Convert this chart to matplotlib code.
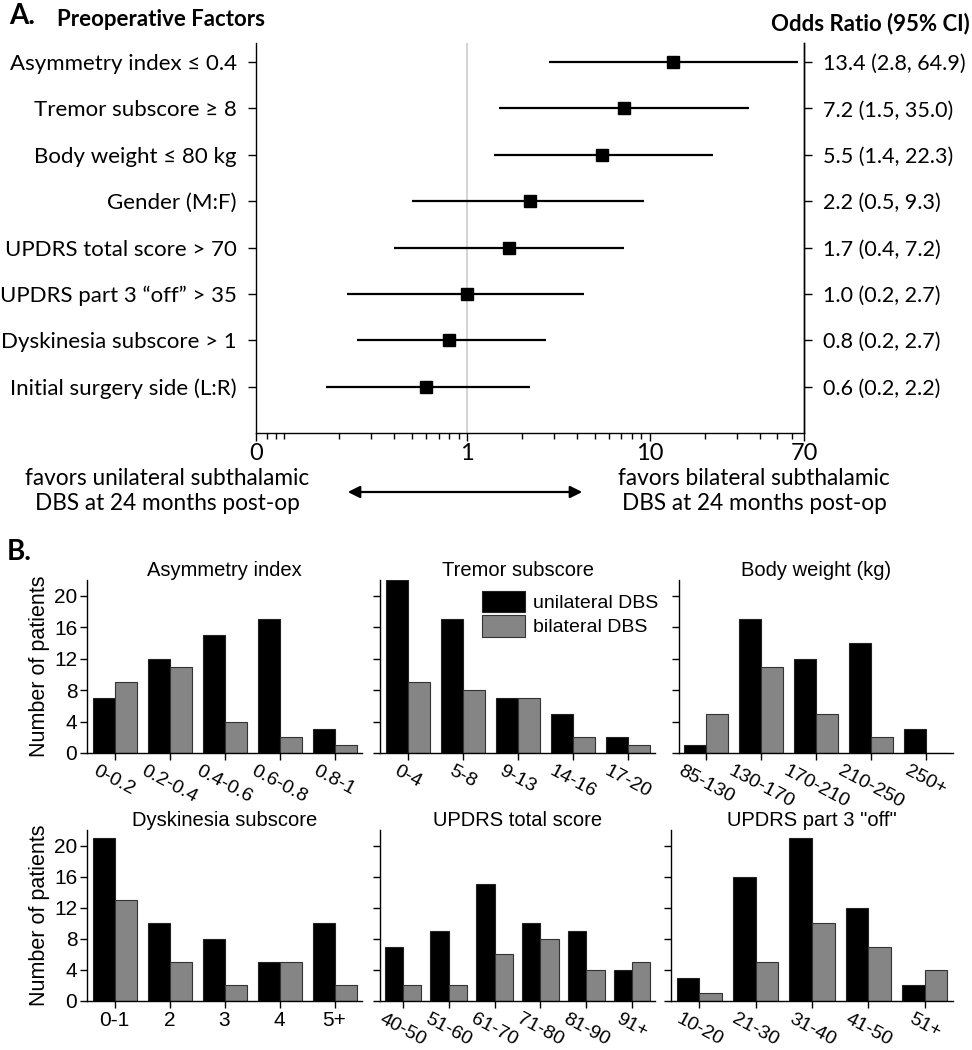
import matplotlib
matplotlib.use('Agg')
import matplotlib.pyplot as plt
import numpy as np
from matplotlib.ticker import FixedLocator, NullFormatter, FixedFormatter

# ---------------- data: panel A (forest plot) ----------------
factors = ["Asymmetry index \u2264 0.4", "Tremor subscore \u2265 8", "Body weight \u2264 80 kg",
           "Gender (M:F)", "UPDRS total score > 70", "UPDRS part 3 \u201coff\u201d > 35",
           "Dyskinesia subscore > 1", "Initial surgery side (L:R)"]
odds = [13.4, 7.2, 5.5, 2.2, 1.7, 1.0, 0.8, 0.6]
ci_low = [2.8, 1.5, 1.4, 0.5, 0.4, 0.22, 0.25, 0.17]
ci_high = [64.9, 35.0, 22.3, 9.3, 7.2, 4.4, 2.7, 2.2]
or_labels = ["13.4 (2.8, 64.9)", "7.2 (1.5, 35.0)", "5.5 (1.4, 22.3)", "2.2 (0.5, 9.3)",
             "1.7 (0.4, 7.2)", "1.0 (0.2, 2.7)", "0.8 (0.2, 2.7)", "0.6 (0.2, 2.2)"]
x_major = [0.07, 1, 10, 70]
x_major_labels = ["0", "1", "10", "70"]
x_minor = [0.08, 0.09, 0.1, 0.2, 0.3, 0.4, 0.5, 0.6, 0.7, 0.8, 0.9,
           2, 3, 4, 5, 6, 7, 8, 9, 20, 30, 40, 50, 60]

# ---------------- data: panel B (histograms) ----------------
bar_titles = ["Asymmetry index", "Tremor subscore", "Body weight (kg)",
              "Dyskinesia subscore", "UPDRS total score", "UPDRS part 3 \"off\""]
cats_asym = ["0-0.2", "0.2-0.4", "0.4-0.6", "0.6-0.8", "0.8-1"]
cats_tremor = ["0-4", "5-8", "9-13", "14-16", "17-20"]
cats_weight = ["85-130", "130-170", "170-210", "210-250", "250+"]
cats_dysk = ["0-1", "2", "3", "4", "5+"]
cats_updrs = ["40-50", "51-60", "61-70", "71-80", "81-90", "91+"]
cats_part3 = ["10-20", "21-30", "31-40", "41-50", "51+"]

uni_asym = [7, 12, 15, 17, 3]
bil_asym = [9, 11, 4, 2, 1]
uni_tremor = [22, 17, 7, 5, 2]
bil_tremor = [9, 8, 7, 2, 1]
uni_weight = [1, 17, 12, 14, 3]
bil_weight = [5, 11, 5, 2, 0]
uni_dysk = [21, 10, 8, 5, 10]
bil_dysk = [13, 5, 2, 5, 2]
uni_updrs = [7, 9, 15, 10, 9, 4]
bil_updrs = [2, 2, 6, 8, 4, 5]
uni_part3 = [3, 16, 21, 12, 2]
bil_part3 = [1, 5, 10, 7, 4]
y_ticks_bar = [0, 4, 8, 12, 16, 20]

W, H = 972, 1050
fig = plt.figure(figsize=(W / 100, H / 100), dpi=100)

def fx(px):
    return px / W

def fy(py):
    return 1 - py / H

CAL = ['Lato', 'DejaVu Sans']
ARI = ['Liberation Sans', 'DejaVu Sans']

# ---------------- panel A ----------------
ax = fig.add_axes([fx(256), fy(433), (804 - 256) / W, (433 - 43) / H])
ypos = np.arange(len(factors))
ax.hlines(ypos, ci_low, ci_high, color='black', lw=1.6, zorder=3)
ax.plot(odds, ypos, 's', color='black', ms=8.5, zorder=4)
ax.axvline(1, color='#c8c8c8', lw=1.1, zorder=1)
ax.set_xscale('log')
ax.set_xlim(0.07, 70)
ax.set_ylim(8.0, -0.41)
ax.spines['top'].set_visible(False)
for s in ['left', 'right', 'bottom']:
    ax.spines[s].set_linewidth(1.0)
ax.set_yticks(ypos)
ax.set_yticklabels(factors, fontsize=16, family=CAL)
ax.tick_params(axis='y', direction='out', length=6, pad=8, width=1)
ax.xaxis.set_major_locator(FixedLocator(x_major))
ax.xaxis.set_major_formatter(FixedFormatter(x_major_labels))
ax.xaxis.set_minor_locator(FixedLocator(x_minor))
ax.xaxis.set_minor_formatter(NullFormatter())
ax.tick_params(axis='x', which='major', direction='out', length=6, width=1, pad=1, labelsize=17)
ax.tick_params(axis='x', which='minor', direction='out', length=4, width=1)
for t in ax.get_xticklabels():
    t.set_family(CAL)

ax2 = ax.twinx()
ax2.set_ylim(ax.get_ylim())
ax2.set_yticks(ypos)
ax2.set_yticklabels(or_labels, fontsize=15.5, family=CAL)
ax2.tick_params(axis='y', direction='out', length=6, pad=8, width=1)
ax2.spines['top'].set_visible(False)
ax2.spines['left'].set_visible(False)
ax2.spines['bottom'].set_visible(False)
ax2.spines['right'].set_linewidth(1.0)

fig.text(fx(9), fy(16), "A.", fontsize=20, fontweight='bold', family=CAL, va='center', ha='left')
fig.text(fx(57), fy(19), "Preoperative Factors", fontsize=16, fontweight='bold', family=CAL, va='center', ha='left')
fig.text(fx(970), fy(24), "Odds Ratio (95% CI)", fontsize=16, fontweight='bold', family=CAL, va='center', ha='right')

fig.text(fx(167), fy(491), "favors unilateral subthalamic\nDBS at 24 months post-op", fontsize=16.3,
         family=CAL, ha='center', va='center', linespacing=1.2)
fig.text(fx(754), fy(491), "favors bilateral subthalamic\nDBS at 24 months post-op", fontsize=16.3,
         family=CAL, ha='center', va='center', linespacing=1.2)
fig.add_artist(matplotlib.patches.FancyArrowPatch((fx(345), fy(492)), (fx(585), fy(492)),
                                                  transform=fig.transFigure, arrowstyle='<|-|>',
                                                  mutation_scale=18, color='black', lw=1.6))

# ---------------- panel B ----------------
fig.text(fx(7), fy(552), "B.", fontsize=20, fontweight='bold', family=CAL, va='center', ha='left')

panels = [
    (cats_asym, uni_asym, bil_asym, (87, 362, 580, 753), True, True),
    (cats_tremor, uni_tremor, bil_tremor, (380, 655, 580, 753), False, True),
    (cats_weight, uni_weight, bil_weight, (679, 953, 580, 753), False, True),
    (cats_dysk, uni_dysk, bil_dysk, (87, 362, 830, 1001), True, False),
    (cats_updrs, uni_updrs, bil_updrs, (380, 655, 830, 1001), False, True),
    (cats_part3, uni_part3, bil_part3, (671, 953, 830, 1001), False, True),
]

for i, (cats, uni, bil, (l, r, t, b), ylab, rot) in enumerate(panels):
    a = fig.add_axes([fx(l), fy(b), (r - l) / W, (b - t) / H])
    x = np.arange(len(cats))
    a.bar(x - 0.2, uni, width=0.4, color='black', edgecolor='#222222', lw=0.8, label='unilateral DBS')
    a.bar(x + 0.2, bil, width=0.4, color='#858585', edgecolor='#333333', lw=0.8, label='bilateral DBS')
    a.set_xlim(-0.5, len(cats) - 0.5)
    a.set_ylim(0, 22)
    a.spines['top'].set_visible(False)
    a.spines['right'].set_visible(False)
    a.spines['left'].set_linewidth(1.0)
    a.spines['bottom'].set_linewidth(1.0)
    a.set_yticks(y_ticks_bar)
    a.set_xticks(x)
    if rot:
        a.set_xticklabels(cats, rotation=-28, ha='center', va='top', fontsize=14, family=ARI,
                          rotation_mode='default')
    else:
        a.set_xticklabels(cats, fontsize=15, family=ARI)
    if ylab:
        a.set_yticklabels([str(v) for v in y_ticks_bar], fontsize=15, family=ARI)
        a.set_ylabel("Number of patients", fontsize=15.5, family=ARI, labelpad=3)
    else:
        a.set_yticklabels([])
    a.tick_params(direction='out', length=5, width=1, pad=2)
    a.set_title(bar_titles[i], fontsize=14.5, family=ARI, pad=0)
    if i == 1:
        a.legend(loc='upper right', bbox_to_anchor=(1.04, 0.98), frameon=False,
                 prop={'family': ARI, 'size': 14}, handlelength=2.2, handleheight=1.3,
                 handletextpad=0.4, labelspacing=0.15, borderaxespad=0)

fig.savefig('out.png', dpi=100)
